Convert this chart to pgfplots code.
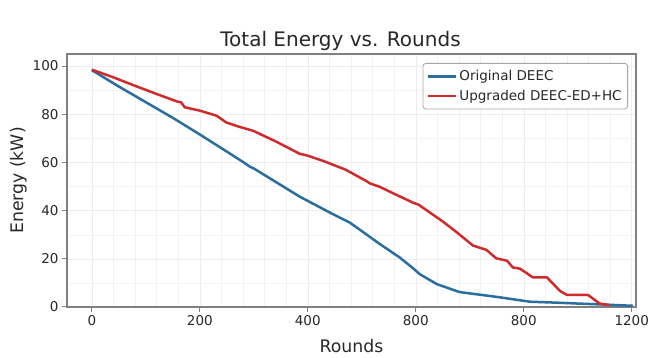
\documentclass[border=0pt]{standalone}
\usepackage{fontspec}
\setmainfont{DejaVu Sans}
\usepackage{pgfplots}
\pgfplotsset{compat=1.18}
\definecolor{cblue}{RGB}{42,110,160}
\definecolor{cred}{RGB}{206,44,44}
\definecolor{axgray}{RGB}{128,128,128}
\definecolor{txt}{RGB}{40,40,40}
\begin{document}
\begin{tikzpicture}
\path[use as bounding box, fill=white] (-67pt,-51pt) rectangle (585pt,307pt);
\begin{axis}[
 scale only axis, width=569pt, height=253pt,
 xmin=-46, xmax=1008, ymin=0, ymax=105,
 xtick={0,200,400,600,800,1000},
 xticklabels={0,200,400,800,800,1200},
 ytick={0,20,40,60,80,100},
 minor x tick num=4, minor y tick num=1,
 grid=both, major grid style={black!7}, minor grid style={black!5},
 axis line style={axgray, line width=1.2pt},
 tick style={axgray, line width=1pt},
 major tick length=5pt, minor tick length=0pt,
 tick align=outside, tick pos=left,
 ticklabel style={font=\fontsize{13.5}{16}\selectfont, text=txt},
 /pgf/number format/assume math mode=true,
 title={Total Energy vs. Rounds},
 title style={font=\fontsize{20}{24}\selectfont, text=txt, at={(axis description cs:0.5,1)}, anchor=base, yshift=1pt, xshift=-11pt},
 xlabel={Rounds}, ylabel={Energy (kW)},
 label style={font=\fontsize{17.3}{20}\selectfont, text=txt},
 xlabel style={at={(axis description cs:0.5,-0.178)}, anchor=base},
 ylabel style={at={(axis description cs:-0.0773,0.5)}, anchor=base},
 legend style={at={(1,1)}, anchor=north east, xshift=-8pt, yshift=-9pt,
   draw=black!35, rounded corners=3pt, line width=0.8pt,
   font=\fontsize{13.5}{16}\selectfont, text=txt,
   inner xsep=4pt, inner ysep=5pt, row sep=4pt, cells={anchor=west}},
 legend image code/.code={\draw[#1, line width=2.5pt] (0pt,0pt) -- (28pt,0pt);},
 every axis plot/.append style={line width=2.5pt, line join=round},
]
\addplot[cblue] coordinates {
(0,98.3) (50,91.5) (100,85) (150,78.5) (200,71.6) (250,64.5) (280,60.2) (293,58.2)
(300,57.5) (340,52) (385,45.8) (446,38.6) (478,35) (500,31.5) (533,26.2) (570,20.6)
(595,16.1) (607,13.7) (639,9.5) (681,6.2) (750,4.2) (811,2.2) (860,1.8) (904,1.4)
(950,1.0) (1002,0.5)
};
\addlegendentry{Original DEEC}
\addplot[cred] coordinates {
(0,98.5) (40,95.3) (80,91.8) (120,88.4) (159,85.2) (165,85) (172,82.9) (200,81.5)
(231,79.4) (249,76.6) (270,75) (299,73.1) (340,68.8) (385,63.6) (400,62.8) (430,60.5)
(470,57) (509,52.2) (515,51.3) (533,49.9) (560,47) (595,43.3) (605,42.5) (650,35.5)
(676,31) (706,25.5) (731,23.7) (749,20.2) (769,19.2) (780,16.4) (793,15.9) (817,12.3)
(843,12.3) (867,6.7) (880,5) (919,5) (941,1.4) (959,0.8)
};
\addlegendentry{Upgraded DEEC-ED+HC}
\end{axis}
\end{tikzpicture}
\end{document}
